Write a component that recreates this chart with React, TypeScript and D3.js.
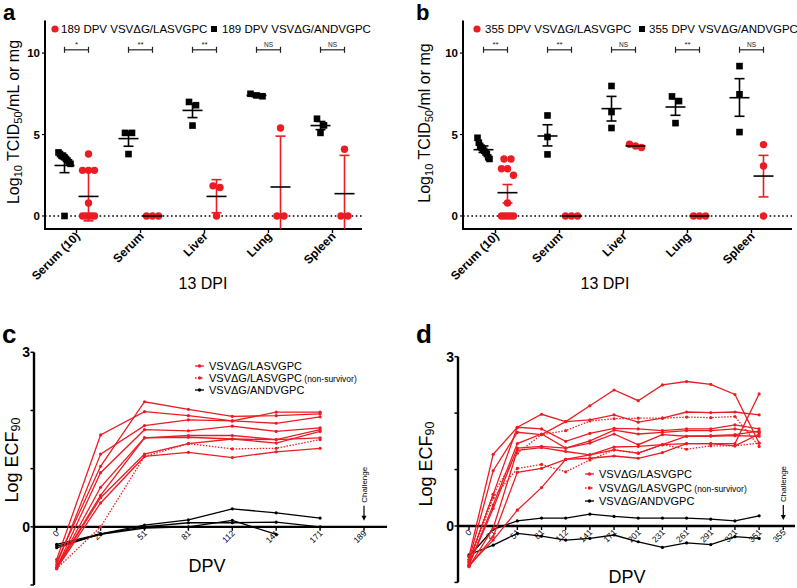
import React from "react";
import * as d3 from "d3";

const RED = "#ec1c24";
const BLACK = "#000000";
const FONT = "'Liberation Sans', Arial, Helvetica, sans-serif";

// ---------- Panels a & b : titres ----------
const organs = ["Serum (10)", "Serum", "Liver", "Lung", "Spleen"];
const yTicksAB = [0, 5, 10];

// panel a (189 DPV)
const aLasvPoints = [
  [3.8, 2.8, 2.8, 2.8, 0.8, 0, 0, 0, 0, 0],
  [0, 0, 0],
  [1.85, 1.75, 0],
  [5.4, 0, 0],
  [4.1, 0, 0],
];
const aLasvMean = [1.2, 0, 1.2, 1.78, 1.37];
const aLasvErr = [[-0.3, 2.85], [0, 0], [0.2, 2.23], [-1, 4.9], [-1, 3.72]];
const aAndvPoints = [
  [3.9, 3.8, 3.7, 3.7, 3.6, 3.5, 3.4, 3.3, 3.2, 0],
  [5.1, 5.1, 3.8],
  [7.0, 6.8, 5.55],
  [7.5, 7.4, 7.35],
  [5.97, 5.56, 5.1],
];
const aAndvMean = [3.1, 4.75, 6.48, 7.4, 5.55];
const aAndvErr = [[2.66, 3.5], [4.28, 5.2], [6.04, 6.9], [7.32, 7.48], [5.3, 5.8]];
const aSig = ["*", "**", "**", "NS", "NS"];

// panel b (355 DPV)
const bLasvPoints = [
  [3.5, 3.5, 2.9, 2.9, 2.5, 0.8, 0, 0, 0, 0, 0],
  [0, 0, 0],
  [4.4, 4.3, 4.2],
  [0, 0, 0],
  [4.38, 3.07, 0],
];
const bLasvMean = [1.43, 0, 4.3, 0, 2.45];
const bLasvErr = [[0.8, 1.93], [0, 0], [4.3, 4.3], [0, 0], [1.17, 3.72]];
const bAndvPoints = [
  [4.8, 4.5, 4.3, 4.2, 4.1, 4.0, 3.9, 3.8, 3.6, 3.5],
  [6.17, 4.85, 3.78],
  [7.98, 6.38, 5.4],
  [7.34, 7.05, 5.7],
  [9.2, 7.47, 5.15],
];
const bAndvMean = [4.07, 4.91, 6.59, 6.69, 7.26];
const bAndvErr = [[3.9, 4.3], [4.3, 5.6], [5.83, 7.34], [6.18, 7.2], [6.12, 8.43]];
const bSig = ["**", "**", "NS", "**", "NS"];

// ---------- Panels c & d : ECF90 kinetics ----------
const cDays = ["0", "21", "51", "81", "112", "141", "171", "189"];
const cLasv = [
  [-0.56, 1.58, 1.98, 1.91, 1.82, 1.97, 1.97],
  [-0.6, 1.04, 2.15, 2.02, 1.9, 1.91, 1.94],
  [-0.65, 1.25, 1.74, 1.84, 1.82, 1.78, 1.89],
  [-0.7, 0.93, 1.67, 1.65, 1.73, 1.64, 1.7],
  [-0.7, 0.68, 1.53, 1.57, 1.57, 1.5, 1.67],
  [-0.7, 0.54, 1.53, 1.54, 1.51, 1.44, 1.64],
  [-0.7, 0.5, 1.25, 1.43, 1.51, 1.5, 1.53],
  [-0.72, 0.41, 1.21, 1.28, 1.19, 1.29, 1.35],
];
const cLasvNonSurv = [[-0.72, 0.0, 1.21, 1.43, 1.34, 1.35, 1.5]];
const cAndv = [
  [-0.3, -0.12, 0.03, 0.12, 0.31, 0.24, 0.15],
  [-0.36, -0.12, 0.0, 0.07, 0.07, 0.08, 0.0],
  [-0.33, -0.13, -0.02, 0.0, 0.11, -0.13],
];

const dDays = ["0", "21", "51", "81", "112", "141", "171", "201", "231", "261", "291", "321", "351", "355"];
const dLasv = [
  [-0.6, 0.98, 1.66, 1.62, 1.85, 2.13, 2.41, 2.22, 2.5, 2.56, 2.51, 2.33, 1.47],
  [-0.54, 1.27, 1.75, 1.98, 1.85, 1.88, 1.97, 1.84, 1.91, 2.02, 2.01, 2.02, 1.97],
  [-0.63, 0.56, 1.75, 1.72, 1.5, 1.64, 1.73, 1.72, 1.69, 1.72, 1.72, 1.79, 1.72],
  [-0.69, 0.37, 1.46, 1.63, 1.38, 1.51, 1.7, 1.63, 1.66, 1.69, 1.69, 1.72, 1.66],
  [-0.69, 0.31, 1.38, 1.41, 1.38, 1.47, 1.63, 1.44, 1.62, 1.59, 1.59, 1.6, 1.59],
  [-0.72, -0.04, 1.34, 1.39, 1.32, 1.26, 1.4, 1.41, 1.44, 1.46, 1.46, 1.46, 2.34],
  [-0.72, -0.19, 0.95, 1.02, 1.18, 1.2, 1.24, 1.2, 1.3, 1.46, 1.46, 1.42, 1.63],
  [-0.7, -0.25, 0.28, 0.68, 1.18, 1.26, 1.35, 1.29, 1.44, 1.59, 1.6, 1.62, 1.68],
];
const dLasvNonSurv = [
  [-0.6, 0.56, 1.29, 1.62, 1.69, 1.86, 1.9, 1.91, 1.91, 1.93, 1.92, 1.94, 1.41],
  [-0.65, 0.5, 1.02, 1.09, 0.96, 1.17, 1.35, 1.29, 1.44, 1.36, 1.42, 1.42, 1.47],
];
const dAndv = [
  [-0.54, -0.06, 0.09, 0.14, 0.14, 0.21, 0.17, 0.14, 0.14, 0.14, 0.12, 0.09, 0.18],
  [-0.51, -0.34, -0.13, -0.18, -0.25, -0.22, -0.16, -0.28, -0.38, -0.3, -0.33, -0.19, -0.22],
];

// ---------- helpers ----------
function dodge(values: number[], y: (v: number) => number, cx: number) {
  const sorted = [...values].sort((p, q) => q - p);
  const clusters: number[][] = [];
  let cur: number[] = [];
  sorted.forEach((v) => {
    if (cur.length && Math.abs(cur[cur.length - 1] - v) > 0.45) {
      clusters.push(cur);
      cur = [];
    }
    cur.push(v);
  });
  if (cur.length) clusters.push(cur);
  const out: { x: number; y: number }[] = [];
  clusters.forEach((c) => {
    const k = c.length;
    const w = Math.min((k - 1) * 7, 12);
    c.forEach((v, j) => out.push({ x: cx + (k === 1 ? 0 : -w / 2 + (w * j) / (k - 1)), y: y(v) }));
  });
  return out;
}

type DotProps = {
  axisX: number;
  axisEnd: number;
  bandRange: [number, number];
  label: string;
  labelPos: [number, number];
  unit: string;
  yTitlePos: [number, number];
  xTitleX: number;
  legendRed: [number, number];
  legendBlack: [number, number];
  dpv: string;
  lasvPts: number[][];
  lasvMean: number[];
  lasvErr: number[][];
  andvPts: number[][];
  andvMean: number[];
  andvErr: number[][];
  sig: string[];
};

function DotPanel(p: DotProps) {
  const y = d3.scaleLinear().domain([-0.8, 12]).range([229, 20.5]);
  const x = d3.scaleBand<string>().domain(organs).range(p.bandRange);
  const bottom = y(-0.8);
  const off = 12;
  const clampY = (v: number) => y(Math.max(v, -0.8));

  const errBar = (cx: number, mean: number, err: number[], col: string, key: string) => {
    const lo = clampY(err[0]);
    const hi = y(err[1]);
    const hasErr = Math.abs(err[1] - err[0]) > 0.01;
    return (
      <g key={key}>
        {hasErr && <line x1={cx} x2={cx} y1={lo} y2={hi} stroke={col} strokeWidth={1.6} />}
        {hasErr && <line x1={cx - 5} x2={cx + 5} y1={hi} y2={hi} stroke={col} strokeWidth={1.6} />}
        {hasErr && err[0] > -0.8 && <line x1={cx - 5} x2={cx + 5} y1={lo} y2={lo} stroke={col} strokeWidth={1.6} />}
        <line x1={cx - 10} x2={cx + 10} y1={y(mean)} y2={y(mean)} stroke={BLACK} strokeWidth={1.6} />
      </g>
    );
  };

  return (
    <g fontFamily={FONT}>
      <text x={p.labelPos[0]} y={p.labelPos[1]} fontSize={22} fontWeight="bold">{p.label}</text>
      {/* legend */}
      <circle cx={p.legendRed[0]} cy={29} r={3.6} fill={RED} />
      <text x={p.legendRed[1]} y={33} fontSize={11.5}>{p.dpv} DPV VSVΔG/LASVGPC</text>
      <rect x={p.legendBlack[0] - 3} y={26} width={6} height={6} fill={BLACK} />
      <text x={p.legendBlack[1]} y={33} fontSize={11.5}>{p.dpv} DPV VSVΔG/ANDVGPC</text>
      {/* y title */}
      <text transform={`translate(${p.yTitlePos[0]},${p.yTitlePos[1]}) rotate(-90)`} textAnchor="middle" dominantBaseline="middle" fontSize={16}>
        Log<tspan fontSize={11} dy={4}>10</tspan><tspan dy={-4}> TCID</tspan><tspan fontSize={11} dy={4}>50</tspan><tspan dy={-4}>/{p.unit} or mg</tspan>
      </text>
      {/* axes */}
      <line x1={p.axisX} x2={p.axisX} y1={20.5} y2={bottom} stroke={BLACK} strokeWidth={2} />
      <line x1={p.axisX - 1} x2={p.axisEnd} y1={bottom} y2={bottom} stroke={BLACK} strokeWidth={2} />
      {yTicksAB.map((t) => (
        <g key={t}>
          <line x1={p.axisX - 3} x2={p.axisX} y1={y(t)} y2={y(t)} stroke={BLACK} strokeWidth={1.2} />
          <text x={p.axisX - 5} y={y(t) + 4} textAnchor="end" fontSize={11.5} fontWeight="bold">{t}</text>
        </g>
      ))}
      {organs.map((o) => {
        const cx = (x(o) as number) + x.bandwidth() / 2;
        return (
          <g key={o}>
            <line x1={cx} x2={cx} y1={bottom} y2={bottom + 4} stroke={BLACK} strokeWidth={1.4} />
            <text transform={`translate(${cx + 4},${bottom + 8}) rotate(-45)`} textAnchor="end" fontSize={12} fontWeight="bold">{o}</text>
          </g>
        );
      })}
      <text x={p.xTitleX} y={289} textAnchor="middle" fontSize={16}>13 DPI</text>
      {/* zero line */}
      <line x1={p.axisX} x2={p.axisEnd} y1={y(0)} y2={y(0)} stroke={BLACK} strokeWidth={1.6} strokeDasharray="1.6,2.6" />
      {/* data */}
      {organs.map((o, i) => {
        const cx = (x(o) as number) + x.bandwidth() / 2;
        const bx = cx - off;
        const rx = cx + off;
        const bp = dodge(p.andvPts[i], y, bx);
        const rp = dodge(p.lasvPts[i], y, rx);
        const sy = y(10.2);
        return (
          <g key={o}>
            {bp.map((pt, j) => (
              <rect key={"b" + j} x={pt.x - 3.3} y={pt.y - 3.3} width={6.6} height={6.6} fill={BLACK} />
            ))}
            {rp.map((pt, j) => (
              <circle key={"r" + j} cx={pt.x} cy={pt.y} r={3.7} fill={RED} />
            ))}
            {errBar(bx, p.andvMean[i], p.andvErr[i], BLACK, "eb")}
            {errBar(rx, p.lasvMean[i], p.lasvErr[i], RED, "er")}
            {/* significance bracket */}
            <line x1={bx} x2={rx} y1={sy} y2={sy} stroke="#222" strokeWidth={1.2} />
            <line x1={bx} x2={bx} y1={sy - 3} y2={sy + 3} stroke="#222" strokeWidth={1.2} />
            <line x1={rx} x2={rx} y1={sy - 3} y2={sy + 3} stroke="#222" strokeWidth={1.2} />
            <text x={cx} y={sy - 3} textAnchor="middle" fontSize={p.sig[i] === "NS" ? 6.5 : 8} fill="#222">{p.sig[i]}</text>
          </g>
        );
      })}
    </g>
  );
}

type LineProps = {
  axisX: number;
  axisEnd: number;
  yRange: [number, number];
  xRange: [number, number];
  days: string[];
  label: string;
  labelPos: [number, number];
  yTitlePos: [number, number];
  xTitlePos: [number, number];
  legend: { x: number; rows: number[] };
  lasv: number[][];
  nonSurv: number[][];
  andv: number[][];
};

function LinePanel(p: LineProps) {
  const y = d3.scaleLinear().domain([-1, 3]).range(p.yRange);
  const x = d3.scalePoint<string>().domain(p.days).range(p.xRange);
  const line = d3
    .line<number>()
    .x((_, i) => x(p.days[i]) as number)
    .y((v) => y(v));
  const axisY = y(0);
  const chX = x(p.days[p.days.length - 1]) as number;

  const series = (data: number[][], col: string, dash: string | undefined, key: string) =>
    data.map((s, k) => (
      <g key={key + k}>
        <path d={line(s) || ""} fill="none" stroke={col} strokeWidth={1.3} strokeDasharray={dash} />
        {s.map((v, i) => (
          <circle key={i} cx={x(p.days[i]) as number} cy={y(v)} r={1.6} fill={col} />
        ))}
      </g>
    ));

  const legendItems = [
    { col: RED, dash: undefined, text: "VSVΔG/LASVGPC", extra: "" },
    { col: RED, dash: "1.5,1.5", text: "VSVΔG/LASVGPC", extra: " (non-survivor)" },
    { col: BLACK, dash: undefined, text: "VSVΔG/ANDVGPC", extra: "" },
  ];

  return (
    <g fontFamily={FONT}>
      <text x={p.labelPos[0]} y={p.labelPos[1]} fontSize={26} fontWeight="bold">{p.label}</text>
      {/* y axis */}
      <line x1={p.axisX} x2={p.axisX} y1={y(3)} y2={y(-1)} stroke={BLACK} strokeWidth={2.4} />
      {[-1, 0, 1, 2, 3].map((t) => (
        <line key={t} x1={p.axisX - 3.5} x2={p.axisX} y1={y(t)} y2={y(t)} stroke={BLACK} strokeWidth={1.5} />
      ))}
      {[0, 3].map((t) => (
        <text key={t} x={p.axisX - 4} y={y(t) + 5} textAnchor="end" fontSize={14} fontWeight="bold">{t}</text>
      ))}
      <text transform={`translate(${p.yTitlePos[0]},${p.yTitlePos[1]}) rotate(-90)`} textAnchor="middle" dominantBaseline="middle" fontSize={18}>
        Log ECF<tspan fontSize={12.5} dy={4}>90</tspan>
      </text>
      {/* x axis */}
      <line x1={p.axisX} x2={p.axisEnd} y1={axisY} y2={axisY} stroke={BLACK} strokeWidth={2.4} />
      {p.days.map((d) => {
        const cx = x(d) as number;
        return (
          <g key={d}>
            <line x1={cx} x2={cx} y1={axisY} y2={axisY + 4} stroke={BLACK} strokeWidth={1.4} />
            <text transform={`translate(${cx + 3},${axisY + 7}) rotate(-45)`} textAnchor="end" fontSize={8.5}>{d}</text>
          </g>
        );
      })}
      <text x={p.xTitlePos[0]} y={p.xTitlePos[1]} textAnchor="middle" fontSize={18}>DPV</text>
      {/* challenge */}
      <text transform={`translate(${chX + 3},${axisY - 42}) rotate(-90)`} textAnchor="middle" fontSize={8}>Challenge</text>
      <line x1={chX} x2={chX} y1={axisY - 21} y2={axisY - 8} stroke={BLACK} strokeWidth={1.2} />
      <path d={`M${chX - 2.5},${axisY - 11} L${chX + 2.5},${axisY - 11} L${chX},${axisY - 6} Z`} fill={BLACK} />
      {/* data */}
      {series(p.andv, BLACK, undefined, "a")}
      {series(p.lasv, RED, undefined, "l")}
      {series(p.nonSurv, RED, "1.5,1.5", "n")}
      {/* legend */}
      {legendItems.map((it, i) => {
        const ry = p.legend.rows[i];
        const lx = p.legend.x;
        return (
          <g key={i}>
            <line x1={lx} x2={lx + 9} y1={ry} y2={ry} stroke={it.col} strokeWidth={1.3} strokeDasharray={it.dash} />
            <circle cx={lx + 4.5} cy={ry} r={1.7} fill={it.col} />
            <text x={lx + 14} y={ry + 4} fontSize={11}>
              {it.text}
              {it.extra && <tspan fontSize={8.5}>{it.extra}</tspan>}
            </text>
          </g>
        );
      })}
    </g>
  );
}

export default function App() {
  return (
    <svg width={797} height={588} style={{ position: "absolute", left: 0, top: 0, background: "#fff" }}>
      <rect width={797} height={588} fill="#fff" />
      <DotPanel
        axisX={45}
        axisEnd={362}
        bandRange={[44.5, 364.5]}
        label="a"
        labelPos={[3, 20]}
        unit="mL"
        yTitlePos={[15, 122]}
        xTitleX={203}
        legendRed={[55, 61]}
        legendBlack={[214, 222]}
        dpv="189"
        lasvPts={aLasvPoints}
        lasvMean={aLasvMean}
        lasvErr={aLasvErr}
        andvPts={aAndvPoints}
        andvMean={aAndvMean}
        andvErr={aAndvErr}
        sig={aSig}
      />
      <DotPanel
        axisX={463}
        axisEnd={792}
        bandRange={[463.5, 783.5]}
        label="b"
        labelPos={[416, 20]}
        unit="ml"
        yTitlePos={[426, 123]}
        xTitleX={605}
        legendRed={[477, 485]}
        legendBlack={[642, 649]}
        dpv="355"
        lasvPts={bLasvPoints}
        lasvMean={bLasvMean}
        lasvErr={bLasvErr}
        andvPts={bAndvPoints}
        andvMean={bAndvMean}
        andvErr={bAndvErr}
        sig={bSig}
      />
      <LinePanel
        axisX={34}
        axisEnd={387}
        yRange={[585, 352.3]}
        xRange={[56.7, 364]}
        days={cDays}
        label="c"
        labelPos={[2, 343]}
        yTitlePos={[13, 460]}
        xTitlePos={[207, 572]}
        legend={{ x: 195, rows: [366, 378, 390] }}
        lasv={cLasv}
        nonSurv={cLasvNonSurv}
        andv={cAndv}
      />
      <LinePanel
        axisX={458}
        axisEnd={795}
        yRange={[582.4, 356.7]}
        xRange={[469, 783.3]}
        days={dDays}
        label="d"
        labelPos={[416, 343]}
        yTitlePos={[427, 464]}
        xTitlePos={[627, 583]}
        legend={{ x: 585, rows: [474, 488, 501] }}
        lasv={dLasv}
        nonSurv={dLasvNonSurv}
        andv={dAndv}
      />
    </svg>
  );
}
